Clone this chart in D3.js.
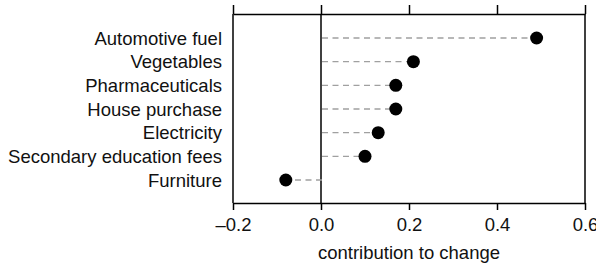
<!DOCTYPE html>
<html>
<head>
<meta charset="utf-8">
<script src="https://cdn.jsdelivr.net/npm/d3@7"></script>
<style>
  body { margin: 0; background: #fff; }
  svg { display: block; font-family: "Liberation Sans", Arial, sans-serif; }
</style>
</head>
<body>
<div id="chart"></div>
<script>
var width = 596, height = 266;
var margin = {top: 14, right: 11, bottom: 63, left: 233};

// data
var categories = ["Automotive fuel", "Vegetables", "Pharmaceuticals", "House purchase",
                  "Electricity", "Secondary education fees", "Furniture"];
var values = [0.49, 0.21, 0.17, 0.17, 0.13, 0.10, -0.08];
var tickValues = [-0.2, 0.0, 0.2, 0.4, 0.6];

var data = categories.map(function(c, i) { return {name: c, value: values[i]}; });

var svg = d3.select("#chart").append("svg")
    .attr("width", width)
    .attr("height", height);

var x = d3.scaleLinear()
    .domain([-0.2, 0.6])
    .range([margin.left, width - margin.right]);

var y = d3.scalePoint()
    .domain(categories)
    .range([38, 180]);

var fmt = function(d) { return d3.format(".1f")(d).replace("−", "–").replace("-", "–"); };

// bottom axis
var xAxis = svg.append("g")
    .attr("transform", "translate(0," + (height - margin.bottom) + ")")
    .call(d3.axisBottom(x).tickValues(tickValues).tickFormat(fmt).tickSize(7).tickSizeOuter(0));
xAxis.select(".domain").attr("stroke", "#000").attr("stroke-width", 1.5);
xAxis.selectAll(".tick line").attr("stroke-width", 1.5);
xAxis.selectAll("text").attr("font-size", 18.5).attr("fill", "#111").attr("dy", "0.98em");

// top axis, ticks only
var topAxis = svg.append("g")
    .attr("transform", "translate(0," + margin.top + ")")
    .call(d3.axisTop(x).tickValues(tickValues).tickFormat("").tickSize(9).tickSizeOuter(0));
topAxis.select(".domain").attr("stroke", "#000").attr("stroke-width", 1.5);
topAxis.selectAll(".tick line").attr("stroke-width", 1.5);

// left and right frame lines, zero line
[-0.2, 0.6, 0].forEach(function(v) {
  svg.append("line")
    .attr("x1", x(v)).attr("x2", x(v))
    .attr("y1", margin.top).attr("y2", height - margin.bottom)
    .attr("stroke", "#000")
    .attr("stroke-width", 1.5);
});

// dashed leaders
svg.selectAll(".leader")
  .data(data)
  .join("line")
    .attr("class", "leader")
    .attr("x1", x(0) + 1)
    .attr("x2", function(d) { return x(d.value); })
    .attr("y1", function(d) { return y(d.name); })
    .attr("y2", function(d) { return y(d.name); })
    .attr("stroke", "#a0a0a0")
    .attr("stroke-width", 1.4)
    .attr("stroke-dasharray", "6,4.5");

// dots
svg.selectAll(".dot")
  .data(data)
  .join("circle")
    .attr("class", "dot")
    .attr("cx", function(d) { return x(d.value); })
    .attr("cy", function(d) { return y(d.name); })
    .attr("r", 6.5)
    .attr("fill", "#000");

// category labels
svg.selectAll(".label")
  .data(data)
  .join("text")
    .attr("class", "label")
    .attr("x", margin.left - 11)
    .attr("y", function(d) { return y(d.name); })
    .attr("dy", "0.36em")
    .attr("text-anchor", "end")
    .attr("font-size", 18.5)
    .attr("fill", "#111")
    .text(function(d) { return d.name; });

// axis title
svg.append("text")
  .attr("x", x(0.2))
  .attr("y", 259)
  .attr("text-anchor", "middle")
  .attr("font-size", 18.5)
  .attr("fill", "#111")
  .text("contribution to change");
</script>
</body>
</html>
